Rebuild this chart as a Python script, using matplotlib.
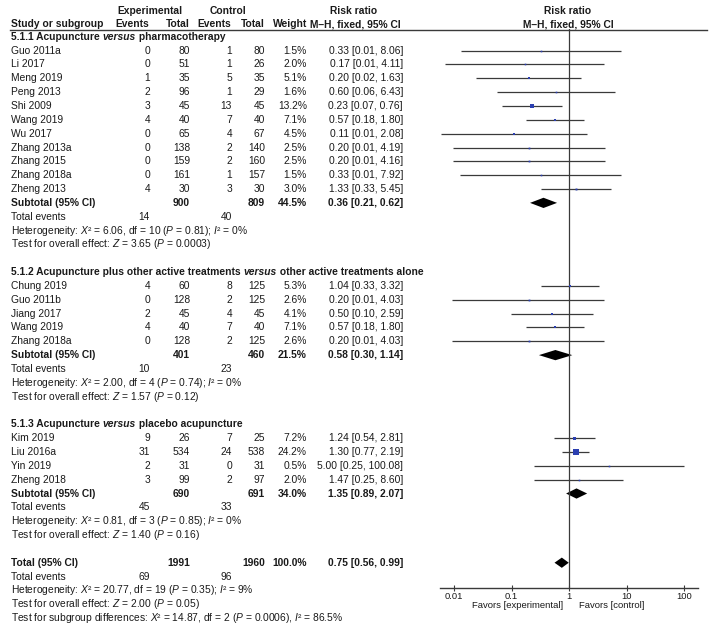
import matplotlib
matplotlib.use("Agg")
import matplotlib.pyplot as plt
from matplotlib.ticker import NullLocator

plt.rcParams['font.family'] = ['Liberation Sans', 'DejaVu Sans']
plt.rcParams['mathtext.fontset'] = 'custom'
plt.rcParams['mathtext.rm'] = 'Liberation Sans'
plt.rcParams['mathtext.it'] = 'Liberation Sans:italic'
plt.rcParams['mathtext.bf'] = 'Liberation Sans:bold'

# ---- data ----
# 5.1.1 Acupuncture versus pharmacotherapy
names1 = ["Guo 2011a", "Li 2017", "Meng 2019", "Peng 2013", "Shi 2009", "Wang 2019",
          "Wu 2017", "Zhang 2013a", "Zhang 2015", "Zhang 2018a", "Zheng 2013"]
ev_e1 = [0, 0, 1, 2, 3, 4, 0, 0, 0, 0, 4]
tot_e1 = [80, 51, 35, 96, 45, 40, 65, 138, 159, 161, 30]
ev_c1 = [1, 1, 5, 1, 13, 7, 4, 2, 2, 1, 3]
tot_c1 = [80, 26, 35, 29, 45, 40, 67, 140, 160, 157, 30]
w1 = [1.5, 2.0, 5.1, 1.6, 13.2, 7.1, 4.5, 2.5, 2.5, 1.5, 3.0]
rr1 = [0.33, 0.17, 0.20, 0.60, 0.23, 0.57, 0.11, 0.20, 0.20, 0.33, 1.33]
lo1 = [0.0131, 0.0071, 0.024, 0.056, 0.068, 0.18, 0.0059, 0.0095, 0.0095, 0.0127, 0.33]
hi1 = [8.06, 4.11, 1.63, 6.43, 0.76, 1.80, 2.08, 4.19, 4.16, 7.92, 5.45]
sub1 = dict(te=900, tc=809, w=44.5, rr=0.36, lo=0.21, hi=0.62, ee=14, ec=40,
            het="Heterogeneity: $X$² = 6.06, df = 10 ($P$ = 0.81); $I$² = 0%",
            test="Test for overall effect: $Z$ = 3.65 ($P$ = 0.0003)")

# 5.1.2 Acupuncture plus other active treatments versus other active treatments alone
names2 = ["Chung 2019", "Guo 2011b", "Jiang 2017", "Wang 2019", "Zhang 2018a"]
ev_e2 = [4, 0, 2, 4, 0]
tot_e2 = [60, 128, 45, 40, 128]
ev_c2 = [8, 2, 4, 7, 2]
tot_c2 = [125, 125, 45, 40, 125]
w2 = [5.3, 2.6, 4.1, 7.1, 2.6]
rr2 = [1.04, 0.20, 0.50, 0.57, 0.20]
lo2 = [0.33, 0.0091, 0.097, 0.18, 0.0091]
hi2 = [3.32, 4.03, 2.59, 1.80, 4.03]
sub2 = dict(te=401, tc=460, w=21.5, rr=0.58, lo=0.30, hi=1.14, ee=10, ec=23,
            het="Heterogeneity: $X$² = 2.00, df = 4 ($P$ = 0.74); $I$² = 0%",
            test="Test for overall effect: $Z$ = 1.57 ($P$ = 0.12)")

# 5.1.3 Acupuncture versus placebo acupuncture
names3 = ["Kim 2019", "Liu 2016a", "Yin 2019", "Zheng 2018"]
ev_e3 = [9, 31, 2, 3]
tot_e3 = [26, 534, 31, 99]
ev_c3 = [7, 24, 0, 2]
tot_c3 = [25, 538, 31, 97]
w3 = [7.2, 24.2, 0.5, 2.0]
rr3 = [1.24, 1.30, 5.00, 1.47]
lo3 = [0.54, 0.77, 0.25, 0.25]
hi3 = [2.81, 2.19, 100.08, 8.60]
sub3 = dict(te=690, tc=691, w=34.0, rr=1.35, lo=0.89, hi=2.07, ee=45, ec=33,
            het="Heterogeneity: $X$² = 0.81, df = 3 ($P$ = 0.85); $I$² = 0%",
            test="Test for overall effect: $Z$ = 1.40 ($P$ = 0.16)")

titles = [("5.1.1 Acupuncture", "versus", "pharmacotherapy"),
          ("5.1.2 Acupuncture plus other active treatments", "versus", "other active treatments alone"),
          ("5.1.3 Acupuncture", "versus", "placebo acupuncture")]

overall = dict(te=1991, tc=1960, w=100.0, rr=0.75, lo=0.56, hi=0.99, ee=69, ec=96)
overall_lines = ["Heterogeneity: $X$² = 20.77, df = 19 ($P$ = 0.35); $I$² = 9%",
                 "Test for overall effect: $Z$ = 2.00 ($P$ = 0.05)",
                 "Test for subgroup differences: $X$² = 14.87, df = 2 ($P$ = 0.0006), $I$² = 86.5%"]

ticks = [0.01, 0.1, 1, 10, 100]
tick_labels = ["0.01", "0.1", "1", "10", "100"]

groups = [
    (names1, ev_e1, tot_e1, ev_c1, tot_c1, w1, rr1, lo1, hi1, sub1),
    (names2, ev_e2, tot_e2, ev_c2, tot_c2, w2, rr2, lo2, hi2, sub2),
    (names3, ev_e3, tot_e3, ev_c3, tot_c3, w3, rr3, lo3, hi3, sub3),
]

# ---- layout ----
FS = 7.4
AFS = 6.8
TXT = '#1a1a1a'
LINE = '#3a3a3a'
SQ = '#2b3fb0'
Y0, DY = 36.8, 13.84


def ypx(r):
    return Y0 + r * DY


fig = plt.figure(figsize=(7.09, 6.24), dpi=100)
tx = fig.add_axes([0, 0, 1, 1])
tx.set_xlim(0, 709)
tx.set_ylim(624, 0)
tx.axis('off')

AX_L, AX_R, AX_T, AX_B = 440, 698, 29, 588
fx = fig.add_axes([AX_L / 709, (624 - AX_B) / 624, (AX_R - AX_L) / 709, (AX_B - AX_T) / 624])
fx.patch.set_alpha(0)
fx.set_xscale('log')
fx.set_xlim(10 ** ((AX_L - 569) / 57.5), 10 ** ((AX_R - 569) / 57.5))
fx.set_ylim((AX_B - Y0) / DY, (AX_T - Y0) / DY)
for s in ['top', 'left', 'right']:
    fx.spines[s].set_visible(False)
fx.spines['bottom'].set_color(LINE)
fx.spines['bottom'].set_linewidth(1.0)
fx.set_xticks(ticks)
fx.set_xticklabels(tick_labels)
fx.xaxis.set_minor_locator(NullLocator())
fx.set_yticks([])
fx.tick_params(axis='x', direction='inout', length=5, width=0.8, color=LINE,
               labelsize=AFS, labelcolor=TXT, pad=0.5)
fx.axvline(1, color=LINE, lw=0.9)

renderer = fig.canvas.get_renderer()

X_EE, X_TE, X_EC, X_TC, X_W, X_RR = 150, 190, 232, 265, 307, 403


def t(x, r, s, ha='left', bold=False, italic=False, y=None):
    return tx.text(x, ypx(r) if y is None else y, s, ha=ha, va='center', fontsize=FS,
                   color=TXT, fontweight='bold' if bold else 'normal',
                   fontstyle='italic' if italic else 'normal')


def row_numbers(r, ee, te, ec, tc, w, rr, lo, hi, bold=False):
    if ee is not None:
        t(X_EE, r, str(ee), 'right', bold)
        t(X_EC, r, str(ec), 'right', bold)
    t(X_TE, r, str(te), 'right', bold)
    t(X_TC, r, str(tc), 'right', bold)
    t(X_W, r, f"{w:.1f}%", 'right', bold)
    t(X_RR, r, f"{rr:.2f} [{lo:.2f}, {hi:.2f}]", 'right', bold)


def diamond(r, rr, lo, hi, h=0.37):
    fx.fill([lo, rr, hi, rr], [r, r - h, r, r + h], color='black', lw=0)


# header
t(150, 0, "Experimental", 'center', True, y=10.7)
t(228.5, 0, "Control", 'center', True, y=10.7)
t(354, 0, "Risk ratio", 'center', True, y=10.7)
t(568, 0, "Risk ratio", 'center', True, y=10.7)
t(11, 0, "Study or subgroup", 'left', True, y=24.3)
t(149, 0, "Events", 'right', True, y=24.3)
t(190, 0, "Total", 'right', True, y=24.3)
t(231, 0, "Events", 'right', True, y=24.3)
t(265, 0, "Total", 'right', True, y=24.3)
t(307, 0, "Weight", 'right', True, y=24.3)
t(355, 0, "M–H, fixed, 95% CI", 'center', True, y=24.3)
t(568, 0, "M–H, fixed, 95% CI", 'center', True, y=24.3)
tx.plot([10, 707], [29.5, 29.5], color=LINE, lw=1.0)

r = 0
for (names, ee, te, ec, tc, w, rr, lo, hi, sub), title in zip(groups, titles):
    # section title with italic "versus"
    x = 11
    for k, piece in enumerate([title[0] + " ", title[1], " " + title[2]]):
        txt = t(x, r, piece, 'left', True, italic=(k == 1))
        x += txt.get_window_extent(renderer).width
    r += 1
    for i in range(len(names)):
        t(11, r, names[i])
        row_numbers(r, ee[i], te[i], ec[i], tc[i], w[i], rr[i], lo[i], hi[i])
        fx.plot([lo[i], hi[i]], [r, r], color=LINE, lw=0.9, solid_capstyle='butt')
        side = max(5.5 * (w[i] / 24.2) ** 0.5, 1.6)
        fx.plot([rr[i]], [r], marker='s', ms=side * 0.72, mfc=SQ, mec=SQ, mew=0, ls='none')
        r += 1
    t(11, r, "Subtotal (95% CI)", bold=True)
    row_numbers(r, None, sub['te'], None, sub['tc'], sub['w'], sub['rr'], sub['lo'], sub['hi'], bold=True)
    diamond(r, sub['rr'], sub['lo'], sub['hi'])
    r += 1
    t(11, r, "Total events")
    t(X_EE, r, str(sub['ee']), 'right')
    t(X_EC, r, str(sub['ec']), 'right')
    r += 1
    t(11, r, sub['het'])
    r += 1
    t(11, r, sub['test'])
    r += 2

t(11, r, "Total (95% CI)", bold=True)
row_numbers(r, None, overall['te'], None, overall['tc'], overall['w'],
            overall['rr'], overall['lo'], overall['hi'], bold=True)
diamond(r, overall['rr'], overall['lo'], overall['hi'])
r += 1
t(11, r, "Total events")
t(X_EE, r, str(overall['ee']), 'right')
t(X_EC, r, str(overall['ec']), 'right')
for line in overall_lines:
    r += 1
    t(11, r, line)

# favours labels
tx.text(563, 606, "Favors [experimental]", ha='right', va='center', fontsize=AFS, color=TXT)
tx.text(579, 606, "Favors [control]", ha='left', va='center', fontsize=AFS, color=TXT)

fig.savefig("out.png", dpi=100)
